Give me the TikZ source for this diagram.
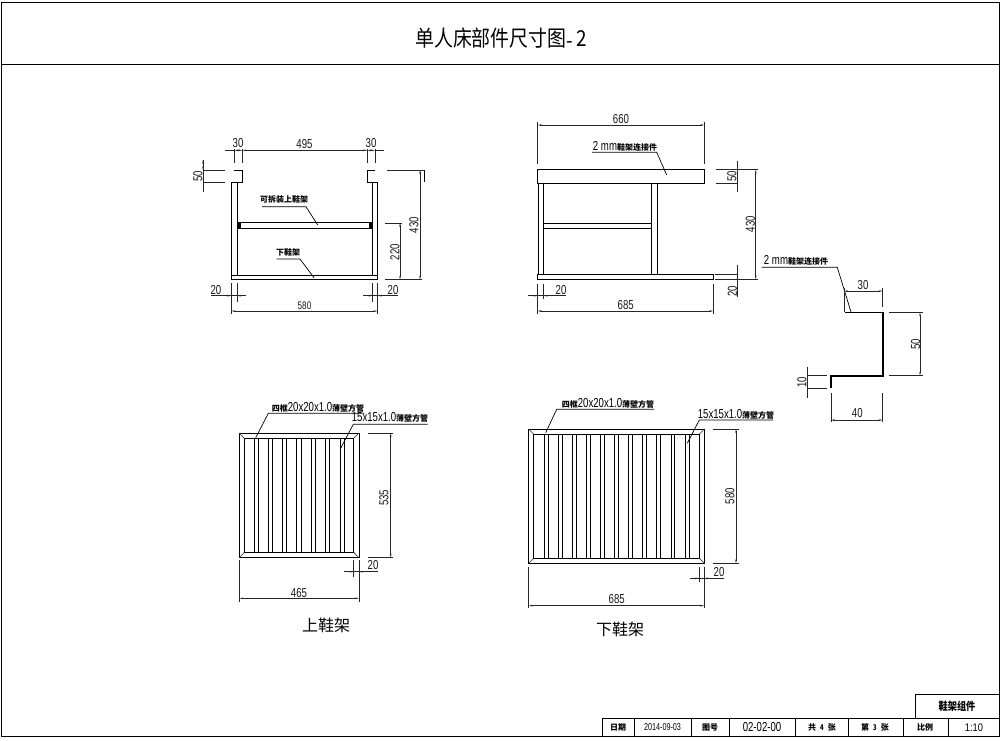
\documentclass[tikz,border=0pt]{standalone}
\usepackage{fontspec}
\setmainfont{Liberation Sans}
\newfontfamily\cjk{Noto Sans CJK SC}
\usetikzlibrary{arrows.meta}
\newcommand{\nar}[1]{\scalebox{0.74}[1]{#1}}
\newcommand{\lbl}[1]{\fontsize{8}{8}\selectfont\cjk\bfseries #1}
\newcommand{\mixlbl}[2]{\fontsize{13}{13}\selectfont\nar{#1}{\fontsize{8}{8}\selectfont\cjk\bfseries #2}}
\tikzset{
  frameln/.style={line width=1pt,black},
  headln/.style={line width=0.8pt,black},
  part/.style={line width=1pt,black},
  thick part/.style={line width=1.6pt,black},
  slat/.style={line width=0.8pt,black},
  extln/.style={line width=0.55pt,black!85},
  dimln/.style={line width=0.55pt,black!85,{Stealth[length=4pt,width=1.6pt]}-{Stealth[length=4pt,width=1.6pt]}},
  inarrow/.style={line width=0.55pt,black!85,-{Stealth[length=4pt,width=1.6pt]}},
  leader/.style={line width=0.7pt,black},
  num/.style={inner sep=0pt,font=\fontsize{13}{13}\selectfont,black!90},
  vnum/.style={num,rotate=90},
  tag/.style={inner sep=0pt,black},
  cell/.style={inner sep=0pt,font=\fontsize{10}{10}\selectfont,black},
}
\begin{document}
\begin{tikzpicture}[x=1pt,y=-1pt]
\useasboundingbox (0,0) rectangle (1002,740);
\fill[white] (0,0) rectangle (1002,740);
% sheet frame
\draw[frameln] (1,2) rectangle (999,736);
\draw[headln] (1,64) -- (999,64);
\node[inner sep=0pt] (title) at (501,38.5) {\scalebox{0.86}[1]{\fontsize{22}{22}\selectfont\cjk 单人床部件尺寸图\raisebox{-2pt}{-}\,2}};
% title block
\draw[part] (602.3,736) -- (602.3,718.3) -- (999,718.3);
\draw[part] (915.7,718.3) -- (915.7,694) -- (999,694);
\foreach \x in {634.3,691,729,795,848.3,903.3,948.3} \draw[part] (\x,718.3) -- (\x,736);
\node[cell] (tb0) at (957,706) {\scalebox{0.92}[1.1]{\cjk\bfseries 鞋架组件}};
\node[cell] (tb1) at (618,727.5) {\fontsize{8}{8}\selectfont\cjk\bfseries 日期};
\node[cell] (tb2) at (662.5,727.5) {\scalebox{0.72}[1]{\fontsize{10}{10}\selectfont 2014-09-03}};
\node[cell] (tb3) at (710,727.5) {\fontsize{8}{8}\selectfont\cjk\bfseries 图号};
\node[cell] (tb4) at (762,727.5) {\nar{\fontsize{13}{13}\selectfont 02-02-00}};
\node[cell] (tb5) at (822,727.5) {\fontsize{8}{8}\selectfont\cjk\bfseries 共\hspace{4pt}\nar{4}\hspace{4pt}张};
\node[cell] (tb6) at (875,727.5) {\fontsize{8}{8}\selectfont\cjk\bfseries 第\hspace{4pt}\nar{3}\hspace{4pt}张};
\node[cell] (tb7) at (925,727.5) {\fontsize{8}{8}\selectfont\cjk\bfseries 比例};
\node[cell] (tb8) at (974,727.5) {\scalebox{0.85}[1]{\fontsize{11}{11}\selectfont 1:10}};

%% FRONT VIEW
\draw[part] (234.4,170) -- (242.3,170) -- (242.3,182.3) -- (231.3,182.3) -- (231.3,275.7);
\draw[part] (237,182.3) -- (237,275.7);
\draw[part] (367.3,170) -- (375,170);
\draw[part] (367.3,170) -- (367.3,182.3) -- (377.7,182.3) -- (377.7,275.7);
\draw[part] (372.7,182.3) -- (372.7,275.7);
\draw[part] (231.3,275.7) rectangle (377.7,279.7);
\draw[part] (237,222.7) rectangle (372.7,228);
\fill (237.5,223) rectangle (241,227.5);
\fill (368.5,223) rectangle (372.2,227.5);
% dims
\draw[dimln] (234.4,150.3) -- (242.3,150.3);
\draw[dimln] (242.3,150.3) -- (367.3,150.3);
\draw[dimln] (367.3,150.3) -- (375,150.3);
\draw[extln] (225,150.3) -- (234.4,150.3) (375,150.3) -- (384,150.3);
\foreach \x in {234.4,242.3,367.3,375} \draw[extln] (\x,149) -- (\x,162.7);
\node[num] (d30a) at (238,143.5) {\nar{30}};
\node[num] (d495) at (304.5,144) {\nar{495}};
\node[num] (d30b) at (371,143.5) {\nar{30}};
\draw[extln] (203,170) -- (225,170) (203,182.5) -- (225,182.5);
\draw[dimln] (203,160) -- (203,170);
\draw[extln] (203,160) -- (203,192);
\node[vnum] (d50a) at (198,176) {\nar{50}};
\draw[extln] (387,170) -- (424,170);
\draw[extln] (385,279.7) -- (422,279.7);
\draw[extln] (385,223) -- (402,223);
\draw[dimln] (420,170) -- (420,279.7);
\draw[dimln] (400,223) -- (400,279.7);
\draw[line width=0.7pt] (424,170) -- (424,182);
\node[vnum] (d430a) at (414,225) {\nar{430}};
\node[vnum] (d220) at (395,252) {\nar{220}};
\foreach \x in {237,372.7} \draw[extln] (\x,283) -- (\x,302);
\draw[extln] (231.3,283) -- (231.3,314) (377.7,283) -- (377.7,314);
\draw[extln] (211,295.7) -- (246,295.7);
\draw[extln] (363,295.7) -- (398,295.7);
\draw[inarrow] (222,295.7) -- (231.3,295.7);
\draw[inarrow] (246,295.7) -- (237,295.7);
\draw[inarrow] (363,295.7) -- (372.7,295.7);
\draw[inarrow] (387,295.7) -- (377.7,295.7);
\node[num] (d20a) at (216,290) {\nar{20}};
\node[num] (d20b) at (393,290) {\nar{20}};
\draw[dimln] (231.3,311) -- (377.7,311);
\node[num,font=\fontsize{11}{11}\selectfont] (d580a) at (304.5,306) {\nar{580}};
\node[tag] (l1) at (284,199) {\lbl{可拆装上鞋架}};
\draw[leader] (262,206.7) -- (306,206.7) -- (317.7,225);
\node[tag] (l2) at (288,252) {\lbl{下鞋架}};
\draw[leader] (276.7,259) -- (300,259) -- (314,277.7);

%% SIDE VIEW
\draw[part] (537.7,169.7) rectangle (704.3,183);
\draw[part] (537.7,274.3) rectangle (713.3,279.3);
\draw[part] (538.3,183) -- (538.3,274.3) (543.7,183) -- (543.7,274.3);
\draw[part] (651.3,183) -- (651.3,274.3) (657.3,183) -- (657.3,274.3);
\draw[part] (543.7,223) -- (651.3,223) (543.7,228.7) -- (651.3,228.7);
\draw[dimln] (537.7,125) -- (704.3,125);
\draw[extln] (537.7,121.7) -- (537.7,164) (704.3,121.7) -- (704.3,164);
\node[num] (d660) at (621,119.5) {\nar{660}};
\node[tag] (l3) at (625,146) {\mixlbl{2 mm}{鞋架连接件}};
\draw[leader] (592,152.3) -- (656.7,152.3) -- (666.7,175);
\draw[extln] (715.7,169.7) -- (758,169.7) (715.7,183) -- (738,183);
\draw[extln] (737.7,161) -- (737.7,192);
\node[vnum] (d50b) at (732,176) {\nar{50}};
\draw[extln] (715,279.3) -- (758,279.3) (715,274.3) -- (738,274.3);
\draw[dimln] (755.7,169.7) -- (755.7,279.3);
\node[vnum] (d430b) at (750.5,224) {\nar{430}};
\draw[extln] (737.7,265) -- (737.7,296.7);
\node[vnum] (d20c) at (732.5,291) {\nar{20}};
\draw[extln] (537.7,284) -- (537.7,314) (713.3,284) -- (713.3,314) (543.7,284) -- (543.7,299);
\draw[extln] (528,295.7) -- (566,295.7);
\draw[inarrow] (528,295.7) -- (537.7,295.7);
\draw[inarrow] (553,295.7) -- (543.7,295.7);
\node[num] (d20d) at (561,290) {\nar{20}};
\draw[dimln] (537.7,311) -- (713.3,311);
\node[num] (d685a) at (625.7,305) {\nar{685}};

%% Z SECTION
\draw[thick part] (845,312.3) -- (882.7,312.3) -- (882.7,375.7) -- (831,375.7) -- (831,388.3);
\node[tag] (l4) at (796,260.5) {\mixlbl{2 mm}{鞋架连接件}};
\draw[leader] (761.7,267.3) -- (837.3,267.3) -- (851,312);
\draw[dimln] (844,291) -- (882.7,291);
\draw[extln] (882.7,288) -- (882.7,307) (844,288) -- (844,312);
\node[num] (d30c) at (863,285) {\nar{30}};
\draw[extln] (889,312.3) -- (923,312.3) (889,375.7) -- (923,375.7);
\draw[dimln] (920,312.3) -- (920,375.7);
\node[vnum] (d50c) at (915.7,344) {\nar{50}};
\draw[extln] (807.3,375.7) -- (826.7,375.7) (807.3,388.3) -- (826.7,388.3);
\draw[extln] (807.3,366.7) -- (807.3,398);
\node[vnum] (d10) at (802,382) {\nar{10}};
\draw[extln] (831,393) -- (831,422.3) (882.7,393) -- (882.7,422.3);
\draw[dimln] (831,420) -- (882.7,420);
\node[num] (d40) at (857.3,413) {\nar{40}};

%% UPPER RACK
\draw[part] (239.3,433) rectangle (359,557.7);
\draw[part] (244.3,438.3) rectangle (353.7,552.3);
\draw[extln] (239.3,433) -- (244.3,438.3) (359,433) -- (353.7,438.3) (239.3,557.7) -- (244.3,552.3) (359,557.7) -- (353.7,552.3);
\foreach \a/\b in {88/100,130/143,172/185,215/229,258/271,300/313,345/357}{
  \draw[slat] ({225+\a/3},438.3) -- ({225+\a/3},552.3) ({225+\b/3},438.3) -- ({225+\b/3},552.3);
}
\draw[slat,line width=1.4pt] ({225+172/3},438.3) -- ({225+172/3},552.3);
\node[tag] (l5) at (318,407.7) {\mixlbl{}{四框}\mixlbl{20x20x1.0}{薄壁方管}};
\draw[leader] (364.3,413.3) -- (268.3,413.3) -- (255.7,437.7);
\node[tag] (l6) at (390,417.7) {\mixlbl{15x15x1.0}{薄壁方管}};
\draw[leader] (427.7,424.3) -- (353.3,424.3) -- (341,447.7);
\draw[extln] (367.7,433) -- (393.3,433) (367.7,557.7) -- (393.3,557.7);
\draw[dimln] (390.7,433) -- (390.7,557.7);
\node[vnum] (d535) at (384,497.7) {\nar{535}};
\draw[extln] (353.7,560) -- (353.7,576.7) (359,560) -- (359,601.7) (239.3,560) -- (239.3,601.7);
\draw[extln] (344,571.7) -- (377.7,571.7);
\draw[inarrow] (344,571.7) -- (353.7,571.7);
\draw[inarrow] (368.7,571.7) -- (359,571.7);
\node[num] (d20e) at (373,565.5) {\nar{20}};
\draw[dimln] (239.3,598.3) -- (359,598.3);
\node[num] (d465) at (299,593) {\nar{465}};
\node[inner sep=0pt] (cap1) at (326,625.7) {\fontsize{16}{16}\selectfont\cjk 上鞋架};

%% LOWER RACK
\draw[part] (528.7,429) rectangle (704.3,563.3);
\draw[part] (533.7,434.3) rectangle (699.3,558.3);
\draw[extln] (528.7,429) -- (533.7,434.3) (704.3,429) -- (699.3,434.3) (528.7,563.3) -- (533.7,558.3) (704.3,563.3) -- (699.3,558.3);
\foreach \a/\b in {87/100,130/142,172/184,215/227,257/268,299/311,341/352,383/395,425/436,468/479,510/522}{
  \draw[slat] ({515+\a/3},434.3) -- ({515+\a/3},558.3) ({515+\b/3},434.3) -- ({515+\b/3},558.3);
}
\node[tag] (l7) at (608,403.3) {\mixlbl{}{四框}\mixlbl{20x20x1.0}{薄壁方管}};
\draw[leader] (654,409.3) -- (556.7,409.3) -- (545.7,432.7);
\node[tag] (l8) at (736,414) {\mixlbl{15x15x1.0}{薄壁方管}};
\draw[leader] (773.3,420) -- (699.3,420) -- (687.3,443.3);
\draw[extln] (713.3,429) -- (739,429) (713.3,563.3) -- (739,563.3);
\draw[dimln] (736,429) -- (736,563.3);
\node[vnum] (d580b) at (730,496) {\nar{580}};
\draw[extln] (699.3,566.7) -- (699.3,581.7) (704.3,566.7) -- (704.3,608.3) (528.7,566.7) -- (528.7,608.3);
\draw[extln] (690,578.3) -- (724.3,578.3);
\draw[inarrow] (690,578.3) -- (699.3,578.3);
\draw[inarrow] (714,578.3) -- (704.3,578.3);
\node[num] (d20f) at (719,572.3) {\nar{20}};
\draw[dimln] (528.7,605.7) -- (704.3,605.7);
\node[num] (d685b) at (616.7,599.3) {\nar{685}};
\node[inner sep=0pt] (cap2) at (620,629.3) {\fontsize{16}{16}\selectfont\cjk 下鞋架};
\end{tikzpicture}
\end{document}
